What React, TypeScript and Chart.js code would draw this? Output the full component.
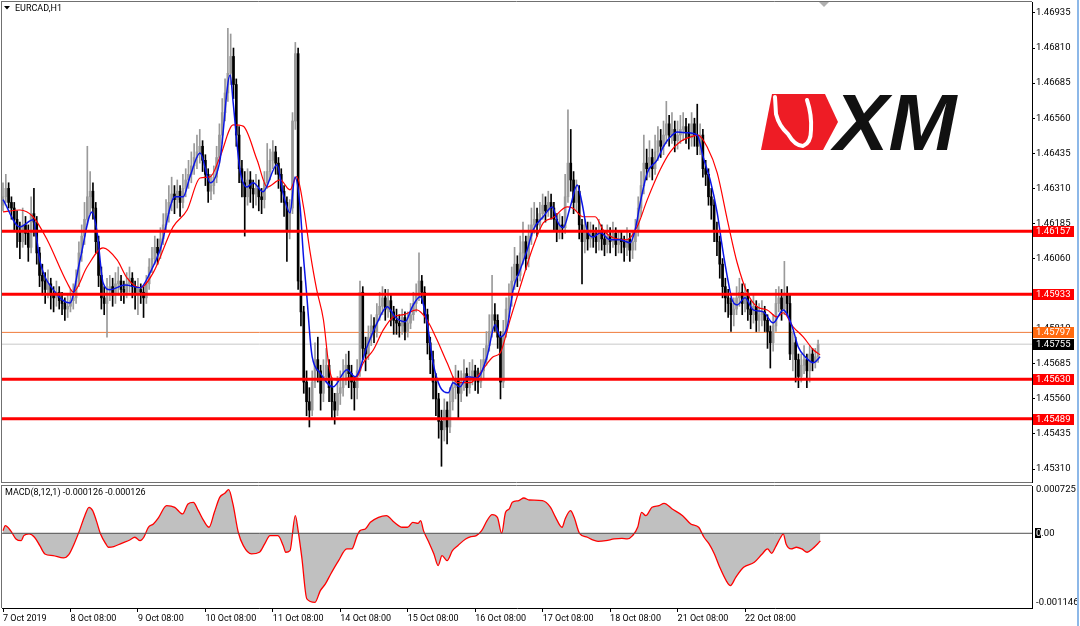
import React, { useEffect, useRef } from 'react';
import { Chart, registerables } from 'chart.js';

Chart.register(...registerables);

const FONT = 'Roboto';

// ---------- data ----------
const dateTickBars = [0, 24, 48, 72, 96, 120, 144, 168, 192, 216, 240, 264];
const dateTickLabels = ['7 Oct 2019', '8 Oct 08:00', '9 Oct 08:00', '10 Oct 08:00', '11 Oct 08:00', '14 Oct 08:00', '15 Oct 08:00', '16 Oct 08:00', '17 Oct 08:00', '18 Oct 08:00', '21 Oct 08:00', '22 Oct 08:00'];
const priceTicks = [1.46935, 1.4681, 1.46685, 1.4656, 1.46435, 1.4631, 1.46185, 1.4606, 1.45935, 1.4581, 1.45685, 1.4556, 1.45435, 1.4531];
const macdTicks = [0.000725, 0, -0.001146];

const firstOpen = 1.4625;
const closes = [
  1.4628, 1.4631, 1.4626, 1.4624, 1.4620, 1.4616, 1.4612, 1.4618, 1.4615, 1.4610,
  1.4622, 1.4619, 1.4608, 1.4600, 1.4598, 1.4595, 1.4597, 1.4593, 1.4592, 1.4594,
  1.4591, 1.4590, 1.4588, 1.4589, 1.4591, 1.4592, 1.4598, 1.4608, 1.4614, 1.4620,
  1.4628, 1.4630, 1.4624, 1.4612, 1.4600, 1.4592, 1.4590, 1.4595, 1.4596, 1.4593,
  1.4597, 1.4598, 1.4595, 1.4594, 1.4597, 1.4599, 1.4596, 1.4593, 1.4595, 1.4594,
  1.4592, 1.4597, 1.4603, 1.4606, 1.4610, 1.4608, 1.4613, 1.4618, 1.4622, 1.4626,
  1.4629, 1.4627, 1.4630, 1.4626, 1.4631, 1.4634, 1.4636, 1.4639, 1.4642, 1.4644,
  1.4646, 1.4641, 1.4636, 1.4630, 1.4632, 1.4635, 1.4642, 1.4650, 1.4658, 1.4665,
  1.4672, 1.4678, 1.4668, 1.4650, 1.4638, 1.4633, 1.4628, 1.4634, 1.4631, 1.4629,
  1.4631, 1.4628, 1.4627, 1.4633, 1.4637, 1.4641, 1.4644, 1.4640, 1.4636, 1.4630,
  1.4626, 1.4616, 1.4624, 1.4655, 1.4679, 1.4598, 1.4587, 1.4562, 1.4555, 1.4552,
  1.4562, 1.4570, 1.4566, 1.4558, 1.4564, 1.4568, 1.4560, 1.4555, 1.4552, 1.4558,
  1.4560, 1.4563, 1.4568, 1.4565, 1.4562, 1.4560, 1.4566, 1.4594, 1.4574, 1.4572,
  1.4578, 1.4582, 1.4580, 1.4586, 1.4589, 1.4592, 1.4588, 1.4591, 1.4587, 1.4584,
  1.4583, 1.4582, 1.4585, 1.4580, 1.4583, 1.4586, 1.4590, 1.4593, 1.4598, 1.4594,
  1.4586, 1.4576, 1.4570, 1.4562, 1.4556, 1.4548, 1.4545, 1.4552, 1.4546, 1.4555,
  1.4560, 1.4563, 1.4558, 1.4562, 1.4565, 1.4560, 1.4564, 1.4566, 1.4563, 1.4562,
  1.4566, 1.4570, 1.4575, 1.4580, 1.4586, 1.4584, 1.4578, 1.4562, 1.4580, 1.4588,
  1.4592, 1.4598, 1.4604, 1.4600, 1.4608, 1.4612, 1.4606, 1.4614, 1.4618, 1.4620,
  1.4618, 1.4622, 1.4625, 1.4623, 1.4626, 1.4624, 1.4620, 1.4616, 1.4618, 1.4617,
  1.4628, 1.4640, 1.4634, 1.4626, 1.4630, 1.4618, 1.4612, 1.4616, 1.4613, 1.4615,
  1.4614, 1.4612, 1.4616, 1.4613, 1.4611, 1.4614, 1.4612, 1.4615, 1.4611, 1.4613,
  1.4612, 1.4610, 1.4613, 1.4609, 1.4612, 1.4616, 1.4624, 1.4632, 1.4640, 1.4638,
  1.4642, 1.4638, 1.4644, 1.4648, 1.4646, 1.4650, 1.4654, 1.4650, 1.4652, 1.4648,
  1.4650, 1.4652, 1.4653, 1.4651, 1.4649, 1.4654, 1.4650, 1.4646, 1.4650, 1.4638,
  1.4636, 1.4628, 1.4625, 1.4616, 1.4612, 1.4604, 1.4596, 1.4592, 1.4590, 1.4586,
  1.4588, 1.4592, 1.4594, 1.4590, 1.4593, 1.4588, 1.4586, 1.4589, 1.4584, 1.4586,
  1.4587, 1.4584, 1.4580, 1.4576, 1.4582, 1.4590, 1.4592, 1.4588, 1.4593, 1.4590,
  1.4572, 1.4576, 1.4570, 1.4564, 1.4568, 1.4570, 1.4566, 1.4572, 1.4569, 1.4571, 1.45755,
];
const highs = [
  1.4633, 1.4636, 1.4633, 1.4628, 1.4626, 1.4623, 1.4619, 1.4624, 1.4621, 1.4618,
  1.4628, 1.4631, 1.4621, 1.4610, 1.4604, 1.4601, 1.4602, 1.4599, 1.4596, 1.4598,
  1.4596, 1.4594, 1.4592, 1.4593, 1.4595, 1.4597, 1.4602, 1.4612, 1.4618, 1.4626,
  1.4646, 1.4637, 1.4633, 1.4626, 1.4614, 1.4603, 1.4596, 1.4599, 1.4600, 1.4599,
  1.4601, 1.4603, 1.4600, 1.4598, 1.4601, 1.4603, 1.4601, 1.4598, 1.4599, 1.4597,
  1.4596, 1.4600, 1.4606, 1.4610, 1.4614, 1.4613, 1.4617, 1.4622, 1.4627, 1.4632,
  1.4635, 1.4632, 1.4634, 1.4632, 1.4636, 1.4638, 1.4641, 1.4644, 1.4647, 1.4650,
  1.4652, 1.4648, 1.4643, 1.4638, 1.4636, 1.4639, 1.4646, 1.4654, 1.4663, 1.4670,
  1.4688, 1.4686, 1.4681, 1.4670, 1.4653, 1.4641, 1.4637, 1.4638, 1.4637, 1.4634,
  1.4636, 1.4634, 1.4631, 1.4637, 1.4647, 1.4645, 1.4648, 1.4646, 1.4642, 1.4638,
  1.4632, 1.4628, 1.4627, 1.4658, 1.4683, 1.4681, 1.4603, 1.4589, 1.4566, 1.4560,
  1.4566, 1.4576, 1.4578, 1.4568, 1.4570, 1.4574, 1.4570, 1.4563, 1.4558, 1.4564,
  1.4566, 1.4570, 1.4572, 1.4573, 1.4568, 1.4564, 1.4570, 1.4598, 1.4596, 1.4578,
  1.4582, 1.4586, 1.4585, 1.4590, 1.4594, 1.4596, 1.4595, 1.4595, 1.4593, 1.4589,
  1.4588, 1.4586, 1.4588, 1.4587, 1.4587, 1.4590, 1.4594, 1.4597, 1.4608, 1.4600,
  1.4596, 1.4588, 1.4578, 1.4573, 1.4565, 1.4558, 1.4552, 1.4556, 1.4555, 1.4560,
  1.4564, 1.4568, 1.4566, 1.4566, 1.4570, 1.4567, 1.4569, 1.4570, 1.4568, 1.4567,
  1.4570, 1.4574, 1.4580, 1.4586, 1.4600, 1.4590, 1.4586, 1.4580, 1.4584, 1.4592,
  1.4597, 1.4603, 1.4610, 1.4607, 1.4614, 1.4619, 1.4614, 1.4618, 1.4624, 1.4626,
  1.4624, 1.4626, 1.4629, 1.4628, 1.4630, 1.4629, 1.4626, 1.4622, 1.4622, 1.4621,
  1.4636, 1.4659, 1.4652, 1.4637, 1.4634, 1.4632, 1.4620, 1.4620, 1.4619, 1.4619,
  1.4618, 1.4617, 1.4620, 1.4618, 1.4616, 1.4618, 1.4617, 1.4619, 1.4617, 1.4616,
  1.4616, 1.4614, 1.4617, 1.4615, 1.4616, 1.4620, 1.4628, 1.4637, 1.4650, 1.4645,
  1.4648, 1.4645, 1.4650, 1.4653, 1.4652, 1.4655, 1.4662, 1.4657, 1.4658, 1.4655,
  1.4655, 1.4657, 1.4658, 1.4656, 1.4654, 1.4658, 1.4656, 1.4661, 1.4654, 1.4652,
  1.4641, 1.4638, 1.4631, 1.4627, 1.4619, 1.4614, 1.4606, 1.4599, 1.4595, 1.4592,
  1.4592, 1.4596, 1.4599, 1.4597, 1.4597, 1.4595, 1.4591, 1.4593, 1.4591, 1.4590,
  1.4591, 1.4589, 1.4586, 1.4582, 1.4586, 1.4595, 1.4596, 1.4595, 1.4605, 1.4596,
  1.4593, 1.4580, 1.4578, 1.4572, 1.4572, 1.4575, 1.4572, 1.4575, 1.4574, 1.4574, 1.4577,
];
const lows = [
  1.4623, 1.4626, 1.4624, 1.4620, 1.4616, 1.4610, 1.4606, 1.4610, 1.4611, 1.4605,
  1.4608, 1.4614, 1.4604, 1.4596, 1.4593, 1.4590, 1.4592, 1.4588, 1.4587, 1.4589,
  1.4588, 1.4586, 1.4584, 1.4585, 1.4587, 1.4588, 1.4590, 1.4596, 1.4605, 1.4611,
  1.4618, 1.4622, 1.4620, 1.4608, 1.4596, 1.4588, 1.4586, 1.4578, 1.4591, 1.4589,
  1.4590, 1.4593, 1.4591, 1.4590, 1.4592, 1.4594, 1.4592, 1.4588, 1.4586, 1.4590,
  1.4585, 1.4590, 1.4595, 1.4601, 1.4604, 1.4604, 1.4606, 1.4611, 1.4616, 1.4619,
  1.4623, 1.4622, 1.4624, 1.4621, 1.4624, 1.4628, 1.4631, 1.4633, 1.4636, 1.4638,
  1.4640, 1.4637, 1.4632, 1.4626, 1.4627, 1.4629, 1.4633, 1.4640, 1.4647, 1.4655,
  1.4662, 1.4668, 1.4663, 1.4646, 1.4633, 1.4628, 1.4614, 1.4625, 1.4626, 1.4624,
  1.4625, 1.4623, 1.4622, 1.4624, 1.4631, 1.4634, 1.4638, 1.4636, 1.4631, 1.4626,
  1.4621, 1.4605, 1.4613, 1.4622, 1.4652, 1.4595, 1.4582, 1.4558, 1.4550, 1.4546,
  1.4550, 1.4560, 1.4562, 1.4552, 1.4555, 1.4562, 1.4555, 1.4549, 1.4547, 1.4550,
  1.4554, 1.4557, 1.4561, 1.4560, 1.4556, 1.4552, 1.4556, 1.4564, 1.4570, 1.4566,
  1.4570, 1.4575, 1.4576, 1.4578, 1.4584, 1.4586, 1.4584, 1.4585, 1.4582, 1.4579,
  1.4579, 1.4578, 1.4579, 1.4577, 1.4578, 1.4581, 1.4584, 1.4587, 1.4591, 1.4590,
  1.4583, 1.4572, 1.4565, 1.4556, 1.4550, 1.4542, 1.4532, 1.4541, 1.4540, 1.4544,
  1.4552, 1.4556, 1.4549, 1.4555, 1.4559, 1.4557, 1.4558, 1.4561, 1.4559, 1.4558,
  1.4560, 1.4563, 1.4568, 1.4573, 1.4578, 1.4580, 1.4574, 1.4556, 1.4560, 1.4578,
  1.4585, 1.4589, 1.4595, 1.4596, 1.4598, 1.4604, 1.4602, 1.4603, 1.4611, 1.4615,
  1.4614, 1.4616, 1.4620, 1.4619, 1.4621, 1.4620, 1.4616, 1.4612, 1.4613, 1.4613,
  1.4615, 1.4626, 1.4630, 1.4622, 1.4623, 1.4613, 1.4597, 1.4608, 1.4609, 1.4610,
  1.4610, 1.4608, 1.4609, 1.4609, 1.4607, 1.4608, 1.4608, 1.4610, 1.4607, 1.4608,
  1.4608, 1.4605, 1.4607, 1.4605, 1.4606, 1.4609, 1.4614, 1.4621, 1.4629, 1.4634,
  1.4635, 1.4634, 1.4636, 1.4641, 1.4642, 1.4643, 1.4647, 1.4646, 1.4647, 1.4644,
  1.4645, 1.4647, 1.4648, 1.4647, 1.4645, 1.4646, 1.4646, 1.4643, 1.4643, 1.4635,
  1.4632, 1.4625, 1.4620, 1.4612, 1.4607, 1.4599, 1.4592, 1.4587, 1.4585, 1.4580,
  1.4582, 1.4586, 1.4589, 1.4586, 1.4587, 1.4584, 1.4581, 1.4583, 1.4580, 1.4580,
  1.4582, 1.4580, 1.4574, 1.4567, 1.4573, 1.4580, 1.4587, 1.4584, 1.4586, 1.4586,
  1.4570, 1.4566, 1.4562, 1.4560, 1.4562, 1.4565, 1.4560, 1.4562, 1.4566, 1.4567, 1.4569,
];

const fastMaBars = [0, 6, 10.7, 13.2, 18.5, 23.8, 27.4, 31.7, 33.5, 35.6, 38.1, 43.4, 48.8, 52.3, 55.9, 61.2, 64.1, 66.5, 70.1, 73.7, 77.2, 80.8, 81.9, 84.3, 86.8, 89, 92.5, 97.5, 99.6, 102.1, 103.9, 105.7, 106.8, 108.2, 109.3, 110, 112.8, 117.4, 122.4, 125.3, 129.5, 133.1, 136.7, 139.5, 143.1, 145.6, 148.4, 150.9, 153, 155.5, 158.4, 160.1, 162.6, 165.1, 168.7, 172.2, 175.1, 176.9, 179.4, 181.5, 184, 186.5, 188.6, 192.2, 195.4, 197.5, 199.3, 201.8, 204.3, 206, 207.8, 210, 212.5, 216, 219.6, 223.1, 224.9, 226.7, 229.2, 232.7, 234.9, 237.4, 239.9, 243.4, 247, 249.1, 251.6, 254.1, 255.9, 257.7, 259.4, 261.2, 264, 266.9, 270.5, 274, 277.6, 280.8, 282.9, 285.4, 288.3, 290.7];
const fastMaValues = [1.4627, 1.46173, 1.46198, 1.46048, 1.45941, 1.45902, 1.46055, 1.46226, 1.46152, 1.45974, 1.45949, 1.45966, 1.45956, 1.46009, 1.46091, 1.4628, 1.4628, 1.46351, 1.46436, 1.4633, 1.46411, 1.46714, 1.46614, 1.46376, 1.46315, 1.4633, 1.46298, 1.46394, 1.46294, 1.46223, 1.46351, 1.46244, 1.4608, 1.45913, 1.45771, 1.4571, 1.45653, 1.45603, 1.45664, 1.45639, 1.45746, 1.45831, 1.45888, 1.45852, 1.45835, 1.45888, 1.45924, 1.45831, 1.45689, 1.45603, 1.45582, 1.45618, 1.45603, 1.45639, 1.45635, 1.4571, 1.45824, 1.45781, 1.45817, 1.45949, 1.4602, 1.46091, 1.46162, 1.46209, 1.46244, 1.46187, 1.4617, 1.46244, 1.46322, 1.46258, 1.46162, 1.46137, 1.46152, 1.46127, 1.46127, 1.46116, 1.46162, 1.46258, 1.46365, 1.46411, 1.46458, 1.46493, 1.46511, 1.46508, 1.465, 1.46422, 1.4634, 1.46223, 1.46102, 1.45995, 1.45913, 1.45895, 1.4592, 1.45877, 1.4587, 1.45831, 1.45877, 1.45817, 1.45746, 1.4571, 1.45689, 1.4571];

const slowMaBars = [0, 6, 10.7, 15.7, 22.8, 25, 29.9, 35.6, 40.6, 44.1, 48.8, 53.4, 60.5, 65.5, 70.1, 73.7, 77.2, 81.9, 85.4, 90.4, 94, 98.6, 102.1, 104.5, 106.9, 109.3, 111.6, 114, 115.8, 117, 118.8, 123.5, 125.9, 128.2, 131.8, 135.3, 138.9, 142.5, 147.2, 150.8, 154.4, 158, 161.6, 166.2, 169.8, 174.4, 176.9, 180.4, 184, 188.6, 192.2, 195.7, 200.7, 202.8, 206.4, 210.7, 213.5, 217.1, 222.1, 225.6, 229.2, 233.8, 237.4, 240.9, 244.5, 247.3, 250.5, 254.1, 257.7, 261.2, 264.8, 268.3, 271.9, 275.4, 277.6, 281.1, 284.7, 288.3, 290.7];
const slowMaValues = [1.46226, 1.46233, 1.46209, 1.46127, 1.45974, 1.45941, 1.4603, 1.46098, 1.46055, 1.45991, 1.45956, 1.46009, 1.46173, 1.46233, 1.46347, 1.46351, 1.46422, 1.46536, 1.46532, 1.46411, 1.46315, 1.4634, 1.46305, 1.46352, 1.46245, 1.4608, 1.45949, 1.45842, 1.45689, 1.45635, 1.45628, 1.45635, 1.45639, 1.45689, 1.45735, 1.45806, 1.45852, 1.4586, 1.45877, 1.45842, 1.45771, 1.45689, 1.45618, 1.45618, 1.45653, 1.4571, 1.45724, 1.45842, 1.45959, 1.46102, 1.46187, 1.46205, 1.46244, 1.46239, 1.46209, 1.46209, 1.46162, 1.46134, 1.46127, 1.46173, 1.46269, 1.46376, 1.4644, 1.46476, 1.46493, 1.465, 1.46458, 1.46365, 1.46198, 1.46045, 1.45938, 1.45888, 1.45877, 1.45852, 1.45867, 1.45817, 1.45781, 1.45735, 1.45717];

const macdBars = [0, 0.8, 2.7, 4.6, 6.5, 7.4, 9.3, 11.2, 13.1, 14.9, 17.8, 21.5, 23.4, 25.3, 27.2, 29.1, 30.6, 31.9, 33.2, 34.7, 36.6, 37.5, 39.4, 42.2, 45.1, 46.9, 48.8, 50.1, 51.7, 53.5, 55.4, 58.2, 61.1, 63.9, 65.8, 67.7, 69.5, 71.4, 73.3, 75.2, 77.1, 78.9, 80.3, 81.8, 83.7, 85.5, 88.4, 91.2, 93.1, 95, 97.8, 99.7, 100.6, 102.1, 104, 105, 106.3, 108.1, 111, 112.9, 114.7, 116.6, 119.4, 122.3, 124.1, 126, 127, 128.9, 130.7, 133.6, 136.4, 139.2, 142, 143.9, 145.8, 147.7, 148.6, 149.6, 151.5, 153.3, 154.8, 156.2, 158, 159.9, 161.8, 164.6, 166.5, 168.4, 170.3, 172.2, 174, 175.9, 177.4, 178.8, 180.1, 181.2, 183.5, 185.3, 187.2, 191.9, 194.8, 196.6, 198.9, 200, 201.9, 203.2, 205.1, 207.9, 209.8, 211.7, 214.5, 217.4, 220.2, 222.1, 224, 225.8, 227.2, 228.7, 230.9, 233.4, 235.2, 238.1, 241.8, 244.7, 247.5, 249.4, 251.2, 253.1, 255, 257.3, 258.8, 260.7, 263.5, 267.3, 270.1, 272, 273.5, 274.8, 276.7, 277.6, 278.6, 280.4, 282.3, 284.2, 286.1, 287.9, 289.8, 290.8];
const macdValues = [0.000044, 0.000127, 0.000044, -0.000094, -0.000122, -0.000039, -0.000011, -0.000066, -0.000205, -0.000343, -0.000371, -0.000409, -0.000354, -0.000177, 0.000044, 0.000293, 0.000431, 0.000376, 0.00021, -0.000011, -0.000177, -0.000232, -0.000221, -0.000166, -0.000111, -0.000066, -0.000122, -0.000066, 0.0001, 0.000155, 0.000265, 0.000459, 0.000431, 0.000321, 0.000487, 0.000514, 0.000376, 0.00021, 0.0001, 0.000348, 0.000597, 0.000664, 0.000725, 0.000487, 0.000017, -0.000205, -0.000343, -0.000315, -0.000177, -0.000039, -0.000039, -0.000205, -0.000315, -0.000288, 0.000293, 0.000044, -0.000398, -0.001089, -0.001146, -0.000951, -0.000841, -0.000675, -0.000453, -0.00026, -0.00026, -0.000039, 0.000044, 0.000072, 0.000182, 0.000265, 0.000293, 0.000182, 0.0001, 0.0001, 0.000182, 0.000166, 0.00021, 0.000044, -0.000149, -0.000343, -0.000536, -0.000371, -0.000453, -0.000288, -0.000205, -0.000094, -0.000055, -0.000039, 0.000044, 0.00021, 0.00031, 0.000265, 0, 0.000348, 0.000404, 0.000514, 0.000542, 0.000586, 0.000553, 0.000542, 0.000431, 0.000265, 0.0001, 0.000238, 0.000376, 0.000265, 0, -0.000066, -0.000111, -0.000133, -0.000122, -0.000094, -0.000083, -0.000094, -0.000039, 0.0001, 0.000348, 0.000293, 0.000431, 0.000459, 0.000498, 0.000404, 0.000293, 0.000155, 0.0001, -0.000066, -0.000177, -0.000343, -0.000564, -0.000785, -0.000868, -0.00073, -0.000564, -0.000481, -0.000343, -0.00026, -0.000332, -0.000232, -0.000066, -0.000011, -0.000177, -0.00026, -0.000232, -0.00026, -0.000315, -0.00026, -0.000177, -0.000126];

const levelLines = [1.46157, 1.45933, 1.4563, 1.45489];
const askLevel = 1.45797;
const bidLevel = 1.45755;
const macdLabel = 'MACD(8,12,1) -0.000126 -0.000126';
const symbolLabel = 'EURCAD,H1';

// ---------- layout constants ----------
const X_MIN = -0.36;
const X_MAX = 366.1;
const PRICE_MIN = 1.45264;
const PRICE_MAX = 1.46974;
const MACD_MIN = -0.00124;
const MACD_MAX = 0.000785;
const AXIS_W = 48;
const BULL = '#9a9a9a';
const BEAR = '#000000';

const zeroPad = (s: any) => {
  s.paddingTop = 0;
  s.paddingBottom = 0;
  s.paddingLeft = 0;
  s.paddingRight = 0;
};

const mainDecor = {
  id: 'mainDecor',
  beforeDatasetsDraw(chart: any) {
    const ctx = chart.ctx;
    ctx.save();
    // XM logo: red badge
    ctx.fillStyle = '#ee1c25';
    ctx.beginPath();
    ctx.moveTo(772, 94);
    ctx.lineTo(825, 94);
    ctx.lineTo(838, 122);
    ctx.lineTo(823, 150);
    ctx.lineTo(761, 150);
    ctx.closePath();
    ctx.fill();
    // bull head outline
    ctx.strokeStyle = '#ffffff';
    ctx.lineWidth = 4;
    ctx.lineJoin = 'round';
    ctx.lineCap = 'round';
    ctx.beginPath();
    ctx.moveTo(775, 97);
    ctx.lineTo(776, 114);
    ctx.quadraticCurveTo(779, 126, 788, 134);
    ctx.quadraticCurveTo(795, 146, 803, 146);
    ctx.quadraticCurveTo(811, 143, 811, 130);
    ctx.quadraticCurveTo(812, 115, 807, 100);
    ctx.stroke();
    // XM letters
    ctx.fillStyle = '#111111';
    ctx.font = `italic bold 80px "Liberation Sans"`;
    ctx.textBaseline = 'alphabetic';
    ctx.translate(834, 150);
    ctx.scale(1.02, 1);
    ctx.fillText('XM', 0, 0);
    ctx.restore();
  },
  afterDraw(chart: any) {
    const ctx = chart.ctx;
    const a = chart.chartArea;
    const y = chart.scales.y;
    ctx.save();
    // frame
    ctx.strokeStyle = '#707070';
    ctx.lineWidth = 1;
    ctx.beginPath();
    ctx.moveTo(a.left - 1, a.top - 0.5);
    ctx.lineTo(a.right, a.top - 0.5);
    ctx.moveTo(a.left - 0.5, a.top - 1);
    ctx.lineTo(a.left - 0.5, a.bottom + 1);
    ctx.moveTo(a.left - 1, a.bottom + 0.5);
    ctx.lineTo(a.right, a.bottom + 0.5);
    ctx.stroke();
    // chart shift marker
    ctx.fillStyle = '#b0b0b0';
    ctx.beginPath();
    ctx.moveTo(819, a.top);
    ctx.lineTo(829, a.top);
    ctx.lineTo(824, a.top + 5);
    ctx.closePath();
    ctx.fill();
    // title
    ctx.fillStyle = '#000';
    ctx.beginPath();
    ctx.moveTo(4, 6);
    ctx.lineTo(10, 6);
    ctx.lineTo(7, 9.5);
    ctx.closePath();
    ctx.fill();
    ctx.font = `9px ${FONT}`;
    ctx.textBaseline = 'middle';
    ctx.textAlign = 'left';
    ctx.fillText(symbolLabel, 15, 8.5);
    // price tags
    const tags = [
      ...levelLines.map((v) => ({ v, bg: '#ff0000' })),
      { v: askLevel, bg: '#ff6a10' },
      { v: bidLevel, bg: '#000000' },
    ];
    ctx.font = `9.5px ${FONT}`;
    tags.forEach((t) => {
      const py = y.getPixelForValue(t.v);
      ctx.fillStyle = t.bg;
      ctx.fillRect(a.right + 1, Math.round(py) - 5, 41, 11);
      ctx.fillStyle = '#ffffff';
      ctx.fillText(t.v.toFixed(5), a.right + 4, Math.round(py) + 0.5);
    });
    ctx.restore();
  },
};

const macdDecor = {
  id: 'macdDecor',
  afterDraw(chart: any) {
    const ctx = chart.ctx;
    const a = chart.chartArea;
    const y = chart.scales.y;
    ctx.save();
    ctx.strokeStyle = '#707070';
    ctx.lineWidth = 1;
    ctx.beginPath();
    ctx.moveTo(a.left - 1, a.top - 0.5);
    ctx.lineTo(a.right, a.top - 0.5);
    ctx.moveTo(a.left - 0.5, a.top - 1);
    ctx.lineTo(a.left - 0.5, a.bottom);
    ctx.stroke();
    ctx.fillStyle = '#000';
    ctx.font = `9px ${FONT}`;
    ctx.textBaseline = 'middle';
    ctx.textAlign = 'left';
    ctx.fillText(macdLabel, 5, a.top + 7);
    // zero-level marker
    const zy = Math.round(y.getPixelForValue(0));
    ctx.fillStyle = '#000';
    ctx.fillRect(a.right + 3, zy - 5, 6, 10);
    ctx.fillStyle = '#fff';
    ctx.font = `9.5px ${FONT}`;
    ctx.fillText('0', a.right + 4, zy + 0.5);
    ctx.restore();
  },
};

export default function App() {
  const mainRef = useRef<HTMLCanvasElement>(null);
  const macdRef = useRef<HTMLCanvasElement>(null);

  useEffect(() => {
    document.body.style.margin = '0';
    const opens = closes.map((c, i) => (i === 0 ? firstOpen : closes[i - 1]));
    const isBull = (i: number) => closes[i] >= opens[i];
    const colorOf = (ctx: any) => (isBull(ctx.dataIndex) ? BULL : BEAR);

    const wicks = closes.map((c, i) => ({
      x: i,
      y: [Math.min(lows[i], opens[i], c), Math.max(highs[i], opens[i], c)],
    }));
    const bodies = closes.map((c, i) => ({ x: i, y: [opens[i], c] }));
    const pts = (bars: number[], vals: number[]) => bars.map((b, i) => ({ x: b, y: vals[i] }));
    const hline = (v: number) => [
      { x: X_MIN, y: v },
      { x: X_MAX, y: v },
    ];

    const tickFont = { family: FONT, size: 9.5 };

    const main = new Chart(mainRef.current as HTMLCanvasElement, {
      type: 'bar',
      data: {
        datasets: [
          ...levelLines.map((v) => ({
            type: 'line' as const,
            data: hline(v),
            borderColor: '#ff0000',
            borderWidth: 3,
            pointRadius: 0,
            order: 0,
          })),
          {
            type: 'line' as const,
            data: hline(askLevel),
            borderColor: '#f07a3a',
            borderWidth: 1,
            pointRadius: 0,
            order: 6,
          },
          {
            type: 'line' as const,
            data: hline(bidLevel),
            borderColor: '#c8c8c8',
            borderWidth: 1,
            pointRadius: 0,
            order: 6,
          },
          {
            type: 'line' as const,
            data: pts(fastMaBars, fastMaValues),
            borderColor: '#0a14e6',
            borderWidth: 1.5,
            pointRadius: 0,
            cubicInterpolationMode: 'monotone',
            order: 1,
          },
          {
            type: 'line' as const,
            data: pts(slowMaBars, slowMaValues),
            borderColor: '#ff0000',
            borderWidth: 1.2,
            pointRadius: 0,
            cubicInterpolationMode: 'monotone',
            order: 2,
          },
          {
            type: 'bar' as const,
            data: bodies as any,
            backgroundColor: colorOf,
            barThickness: 2,
            minBarLength: 1,
            borderWidth: 0,
            grouped: false,
            order: 3,
          },
          {
            type: 'bar' as const,
            data: wicks as any,
            backgroundColor: colorOf,
            barThickness: 1,
            borderWidth: 0,
            grouped: false,
            order: 4,
          },
        ] as any,
      },
      options: {
        animation: false,
        responsive: false,
        devicePixelRatio: 1,
        layout: { padding: { left: 2, top: 2, bottom: 2, right: 0 } },
        plugins: { legend: { display: false }, tooltip: { enabled: false } },
        scales: {
          x: { type: 'linear', min: X_MIN, max: X_MAX, display: false, offset: false },
          y: {
            type: 'linear',
            position: 'right',
            min: PRICE_MIN,
            max: PRICE_MAX,
            afterFit: (s: any) => {
              s.width = AXIS_W;
              zeroPad(s);
            },
            afterBuildTicks: (s: any) => {
              s.ticks = priceTicks.map((v) => ({ value: v }));
            },
            ticks: {
              autoSkip: false,
              padding: 1,
              color: '#000',
              font: tickFont,
              callback: (v: any) => Number(v).toFixed(5),
            },
            grid: { drawOnChartArea: false, tickLength: 3, color: '#000' },
            border: { color: '#000' },
          },
        },
      } as any,
      plugins: [mainDecor],
    });

    const macd = new Chart(macdRef.current as HTMLCanvasElement, {
      type: 'line',
      data: {
        datasets: [
          {
            data: hline(0),
            borderColor: '#505050',
            borderWidth: 1,
            pointRadius: 0,
            order: 0,
          },
          {
            data: pts(macdBars, macdValues),
            borderColor: '#ff0000',
            backgroundColor: '#c0c0c0',
            borderWidth: 1.3,
            pointRadius: 0,
            fill: 'origin',
            cubicInterpolationMode: 'monotone',
            order: 1,
          },
        ] as any,
      },
      options: {
        animation: false,
        responsive: false,
        devicePixelRatio: 1,
        layout: { padding: { left: 2, top: 2, bottom: 0, right: 0 } },
        plugins: { legend: { display: false }, tooltip: { enabled: false } },
        scales: {
          x: {
            type: 'linear',
            min: X_MIN,
            max: X_MAX,
            offset: false,
            afterFit: (s: any) => {
              s.height = 18;
              zeroPad(s);
            },
            afterBuildTicks: (s: any) => {
              s.ticks = dateTickBars.map((v) => ({ value: v }));
            },
            ticks: {
              autoSkip: false,
              maxRotation: 0,
              minRotation: 0,
              align: 'start',
              padding: 1,
              color: '#000',
              font: { family: FONT, size: 9 },
              callback: (v: any) => {
                const k = dateTickBars.indexOf(Number(v));
                return k >= 0 ? dateTickLabels[k] : '';
              },
            },
            grid: { drawOnChartArea: false, tickLength: 4, color: '#000' },
            border: { color: '#000' },
          },
          y: {
            type: 'linear',
            position: 'right',
            min: MACD_MIN,
            max: MACD_MAX,
            afterFit: (s: any) => {
              s.width = AXIS_W;
              zeroPad(s);
            },
            afterBuildTicks: (s: any) => {
              s.ticks = macdTicks.map((v) => ({ value: v }));
            },
            ticks: {
              autoSkip: false,
              padding: 1,
              color: '#000',
              font: tickFont,
              callback: (v: any) => (Number(v) === 0 ? '0.00' : Number(v).toFixed(6)),
            },
            grid: { drawOnChartArea: false, tickLength: 3, color: 'rgba(0,0,0,0)' },
            border: { color: '#000' },
          },
        },
      } as any,
      plugins: [macdDecor],
    });

    return () => {
      main.destroy();
      macd.destroy();
    };
  }, []);

  return (
    <div style={{ position: 'absolute', left: 0, top: 0, width: 1080, height: 626, background: '#fff', overflow: 'hidden' }}>
      <canvas ref={mainRef} width={1080} height={484} style={{ position: 'absolute', left: 0, top: 0, width: 1080, height: 484 }} />
      <canvas ref={macdRef} width={1080} height={142} style={{ position: 'absolute', left: 0, top: 484, width: 1080, height: 142 }} />
      <div style={{ position: 'absolute', left: 1077, top: 0, width: 2, height: 626, background: '#8db8e8' }} />
    </div>
  );
}
